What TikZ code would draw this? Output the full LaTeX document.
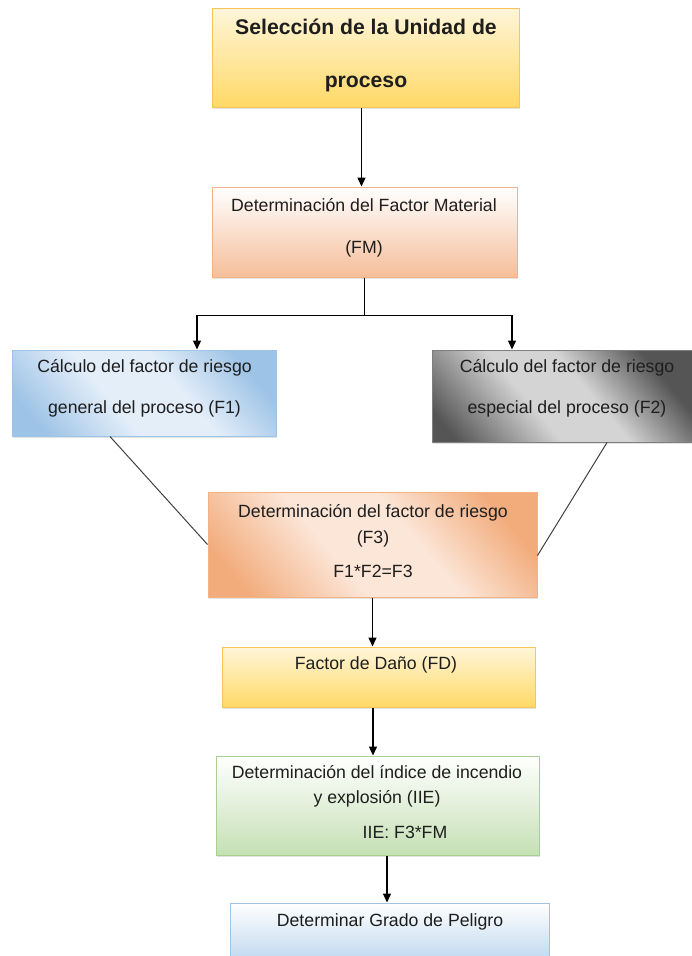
\documentclass[tikz,border=0pt]{standalone}
\usepackage{fontspec}
\setmainfont{Liberation Sans}
\usetikzlibrary{arrows.meta,calc,shadows}
\definecolor{txtc}{HTML}{1E1E1E}
\definecolor{yelTop}{HTML}{FFF6DA}
\definecolor{yelBot}{HTML}{FFD966}
\definecolor{yelLine}{HTML}{F7C55A}
\definecolor{salLine}{HTML}{F4B183}
\definecolor{salBot}{HTML}{F5BE9A}
\definecolor{salDark}{HTML}{F2AC7C}
\definecolor{salLight}{HTML}{FCE6D8}
\definecolor{bluDark}{HTML}{9DC3E6}
\definecolor{bluLight}{HTML}{E4EEF9}
\definecolor{bluLine}{HTML}{9DC3E6}
\definecolor{bluBot}{HTML}{BDD7EE}
\definecolor{gryDark}{HTML}{555555}
\definecolor{gryLight}{HTML}{D4D4D4}
\definecolor{gryLine}{HTML}{7F7F7F}
\definecolor{grnBot}{HTML}{C5E0B4}
\definecolor{grnLine}{HTML}{A9D18E}
\pgfdeclarehorizontalshading{shBlue}{100bp}{color(0bp)=(bluDark); color(22bp)=(bluDark); color(42bp)=(bluLight); color(58bp)=(bluLight); color(76bp)=(bluDark); color(100bp)=(bluDark)}
\pgfdeclarehorizontalshading{shGray}{100bp}{color(0bp)=(gryDark); color(20bp)=(gryDark); color(42bp)=(gryLight); color(56bp)=(gryLight); color(74bp)=(gryDark); color(100bp)=(gryDark)}
\pgfdeclarehorizontalshading{shSalmon}{100bp}{color(0bp)=(salDark); color(22bp)=(salDark); color(42bp)=(salLight); color(58bp)=(salLight); color(76bp)=(salDark); color(100bp)=(salDark)}
\begin{document}
\begin{tikzpicture}[x=1pt,y=-1pt,
  box/.style={draw, line width=1pt, rectangle, inner sep=0pt,
    drop shadow={shadow xshift=1.2pt,shadow yshift=-1.5pt,opacity=0.22}},
  txt/.style={anchor=base, inner sep=0pt, text=txtc,
    font=\fontsize{17.7}{20}\selectfont},
  ttl/.style={anchor=base, inner sep=0pt, text=txtc,
    font=\fontsize{21.2}{24}\selectfont\bfseries},
  arr/.style={line width=1.4pt, draw=black, -{Triangle[width=8pt,length=9pt]}},
  conn/.style={line width=1.4pt, draw=black},
  diag/.style={line width=1pt, draw=black!75}]
\useasboundingbox (0,0) rectangle (692,956);

% boxes
\node[box, draw=yelLine, top color=yelTop, bottom color=yelBot,
  minimum width=307pt, minimum height=99pt] (b1) at (365.5,57.5) {};
\node[box, draw=salLine, top color=white, bottom color=salBot,
  minimum width=305pt, minimum height=90pt] (b2) at (364.5,232) {};
\node[box, draw=bluLine, shading=shBlue, shading angle=40,
  minimum width=264pt, minimum height=86pt] (f1) at (144,393) {};
\node[box, draw=gryLine, shading=shGray, shading angle=40,
  minimum width=262pt, minimum height=92pt] (f2) at (563,396) {};
\node[box, draw=salLine, shading=shSalmon, shading angle=40,
  minimum width=329pt, minimum height=105pt] (f3) at (372.5,544.5) {};
\node[box, draw=yelLine, top color=yelTop, bottom color=yelBot,
  minimum width=313pt, minimum height=60pt] (fd) at (378.5,677) {};
\node[box, draw=grnLine, top color=white, bottom color=grnBot,
  minimum width=323pt, minimum height=99pt] (ie) at (377.5,805.5) {};
\node[box, draw=bluLine, top color=white, bottom color=bluBot,
  minimum width=319pt, minimum height=60pt] (gp) at (389.5,933) {};

% texts
\node[ttl] (t1a) at (366,34.5) {Selección de la Unidad de};
\node[ttl] (t1b) at (366,87.5) {proceso};
\node[txt] (t2a) at (364,211) {Determinación del Factor Material};
\node[txt] (t2b) at (364,253) {(FM)};
\node[txt] (t3a) at (144.5,372) {Cálculo del factor de riesgo};
\node[txt] (t3b) at (144.5,413) {general del proceso (F1)};
\node[txt] (t4a) at (567,372) {Cálculo del factor de riesgo};
\node[txt] (t4b) at (567,413) {especial del proceso (F2)};
\node[txt] (t5a) at (373,517) {Determinación del factor de riesgo};
\node[txt] (t5b) at (373,543) {(F3)};
\node[txt] (t5c) at (373,577) {F1*F2=F3};
\node[txt] (t6) at (376,669) {Factor de Daño (FD)};
\node[txt] (t7a) at (377,778) {Determinación del índice de incendio};
\node[txt] (t7b) at (377,803) {y explosión (IIE)};
\node[txt] (t7c) at (405,838) {IIE: F3*FM};
\node[txt] (t8) at (390,926) {Determinar Grado de Peligro};

% connectors
\draw[arr] ([xshift=-4pt]b1.south) -- ([xshift=-4pt]b1.south |- b2.north);
\draw[conn] (b2.south) -- ++(0,38) coordinate (j);
\draw[arr] (j) -| ([xshift=53pt]f1.north);
\draw[arr] (j) -| ([xshift=-51pt]f2.north);
\draw[diag] ([xshift=-34pt]f1.south) -- (f3.west);
\draw[diag] ([xshift=44pt]f2.south) -- ([yshift=-11pt]f3.east);
\draw[arr] (f3.south) -- (f3.south |- fd.north);
\draw[arr] ([xshift=-5.5pt]fd.south) -- ([xshift=-5.5pt]fd.south |- ie.north);
\draw[arr] ([xshift=9.5pt]ie.south) -- ([xshift=9.5pt]ie.south |- gp.north);
\end{tikzpicture}
\end{document}
